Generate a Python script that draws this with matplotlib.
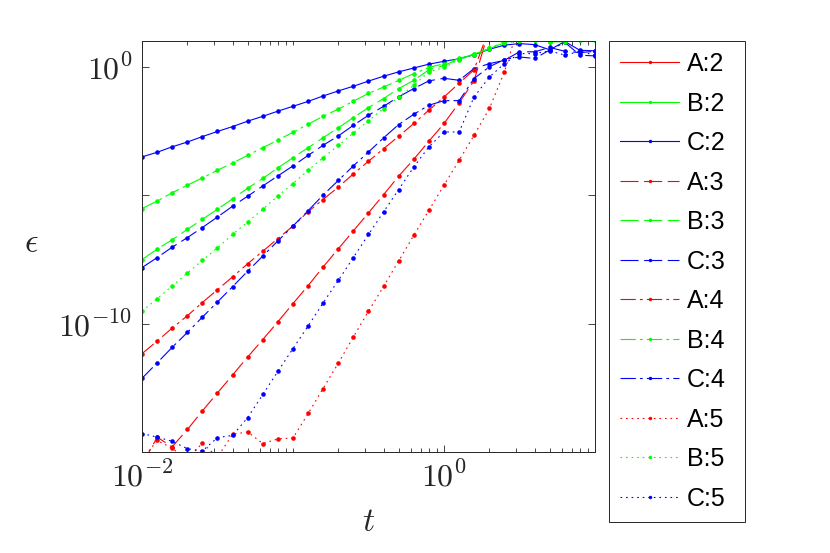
import numpy as np
import matplotlib
matplotlib.use('Agg')
import matplotlib.pyplot as plt
from matplotlib.ticker import LogLocator, NullLocator, NullFormatter

plt.rcParams['mathtext.fontset'] = 'cm'
plt.rcParams['lines.scale_dashes'] = False

# time steps
t = [0.01, 0.0126, 0.0158, 0.02, 0.0251, 0.0316, 0.0398, 0.0501, 0.0631, 0.0794,
     0.1, 0.126, 0.158, 0.2, 0.251, 0.316, 0.398, 0.501, 0.631, 0.794,
     1.0, 1.26, 1.58, 2.0, 2.51, 3.16, 3.98, 5.01, 6.31, 7.94, 10.0]

# log10 of the error (values above 1 leave through the top)
# A:2 and B:2 never show inside the axes
a2 = [np.nan] * 31
b2 = [np.nan] * 31
c2 = [-3.51, -3.33, -3.12, -2.93, -2.72, -2.52, -2.33, -2.12, -1.93, -1.73,
      -1.54, -1.35, -1.14, -0.94, -0.76, -0.56, -0.37, -0.20, -0.05, 0.10,
      0.21, 0.31, 0.47, 0.68, 0.84, 0.90, 0.86, 0.66, 0.98, 0.64, 0.62]
a3 = [-15.5, -14.42, -14.8, -14.12, -13.40, -12.70, -12.00, -11.30, -10.62, -9.93,
      -9.22, -8.52, -7.80, -7.08, -6.39, -5.69, -4.98, -4.26, -3.60, -2.90,
      -2.21, -1.40, -0.55, 1.5, 2.5, 3.0, 3.2, 3.4, 3.5, 3.6, 3.7]
b3 = [-7.51, -7.10, -6.74, -6.33, -5.94, -5.55, -5.14, -4.73, -4.35, -3.94,
      -3.54, -3.15, -2.77, -2.37, -1.98, -1.59, -1.24, -0.85, -0.53, -0.12,
      0.05, 0.30, 0.48, 0.70, 0.95, 1.05, 1.05, 0.97, 1.0, 1.05, 1.05]
c3 = [-7.82, -7.43, -7.03, -6.65, -6.26, -5.85, -5.43, -5.04, -4.64, -4.25,
      -3.86, -3.45, -3.06, -2.69, -2.28, -1.89, -1.54, -1.17, -0.85, -0.55,
      -0.45, -0.53, -0.07, 0.12, 0.25, 0.58, 0.58, 0.75, 0.60, 0.55, 0.60]
a4 = [-11.17, -10.68, -10.18, -9.69, -9.18, -8.68, -8.18, -7.67, -7.18, -6.69,
      -6.20, -5.64, -5.17, -4.68, -4.17, -3.68, -3.19, -2.71, -2.21, -1.69,
      -1.18, -0.64, -0.12, 1.5, 2.5, 3.0, 3.2, 3.4, 3.5, 3.6, 3.7]
b4 = [-5.52, -5.23, -4.91, -4.61, -4.33, -4.03, -3.75, -3.45, -3.15, -2.86,
      -2.55, -2.24, -1.93, -1.65, -1.34, -1.04, -0.79, -0.53, -0.27, -0.03,
      0.12, 0.32, 0.49, 0.71, 0.98, 1.05, 1.1, 0.97, 0.97, 1.1, 1.1]
c4 = [-12.13, -11.53, -10.93, -10.34, -9.75, -9.16, -8.56, -7.96, -7.37, -6.78,
      -6.20, -5.60, -5.00, -4.42, -3.86, -3.32, -2.77, -2.25, -1.85, -1.50,
      -1.32, -1.32, -0.46, 0.0, 0.28, 0.38, 0.32, 0.65, 0.95, 0.45, 0.42]
a5 = [-15.3, -14.55, -14.85, -15.3, -14.65, -15.2, -14.31, -14.22, -14.67, -14.49,
      -14.45, -13.50, -12.53, -11.53, -10.52, -9.52, -8.55, -7.56, -6.56, -5.59,
      -4.61, -3.64, -2.67, -1.62, -0.20, 1.7, 2.5, 3.0, 3.2, 3.4, 3.5]
b5 = [-9.52, -9.03, -8.54, -8.03, -7.54, -7.05, -6.53, -6.04, -5.55, -5.03,
      -4.55, -4.03, -3.54, -3.06, -2.58, -2.10, -1.63, -1.18, -0.72, -0.20,
      -0.03, 0.28, 0.45, 0.72, 0.92, 1.0, 1.05, 1.05, 0.97, 1.05, 1.05]
c5 = [-14.28, -14.42, -14.58, -14.87, -14.96, -14.44, -14.35, -13.66, -12.76, -11.86,
      -10.97, -10.09, -9.20, -8.31, -7.43, -6.53, -5.65, -4.78, -3.90, -3.12,
      -2.54, -2.54, -1.18, -0.40, 0.12, 0.51, 0.51, 0.62, 0.45, 0.60, 0.45]

series = [('A:2', a2), ('B:2', b2), ('C:2', c2),
          ('A:3', a3), ('B:3', b3), ('C:3', c3),
          ('A:4', a4), ('B:4', b4), ('C:4', c4),
          ('A:5', a5), ('B:5', b5), ('C:5', c5)]

colors = {'A': (1, 0, 0), 'B': (0, 1, 0), 'C': (0, 0, 1)}
styles = {'2': '-', '3': (0, (13, 4)), '4': (0, (11, 3, 2, 3)), '5': (0, (1.2, 2.8))}

fig = plt.figure(figsize=(8.3, 5.53), dpi=100)
ax = fig.add_axes([0.1711, 0.1826, 0.5458, 0.7432])

for name, vals in series:
    ax.plot(t, 10.0 ** np.array(vals), color=colors[name[0]], linestyle=styles[name[2]],
            linewidth=0.8, marker='o', markersize=3.3, markeredgewidth=0, label=name)

ax.set_xscale('log')
ax.set_yscale('log')
ax.set_xlim(1e-2, 1e1)
ax.set_ylim(1e-15, 1e1)

ax.set_xticks([1e-2, 1e0])
ax.set_xticklabels([r'$10^{-2}$', r'$10^{0}$'])
ax.xaxis.set_minor_locator(LogLocator(base=10, subs=np.arange(1, 10), numticks=30))
ax.xaxis.set_minor_formatter(NullFormatter())
ax.set_yticks([1e-15, 1e-10, 1e-5, 1e0])
ax.set_yticklabels(['', r'$10^{-10}$', '', r'$10^{0}$'])
ax.yaxis.set_minor_locator(NullLocator())

ax.tick_params(which='both', direction='in', top=True, right=True, colors='0.15',
               labelsize=23, width=0.6)
ax.tick_params(which='major', length=5, pad=7)
ax.tick_params(which='minor', length=3)
for s in ax.spines.values():
    s.set_color('0.15')
    s.set_linewidth(0.7)

ax.set_xlabel(r'$t$', fontsize=24, color='0.15')
ax.set_ylabel(r'$\epsilon$', fontsize=24, color='0.15', rotation=0)
ax.xaxis.set_label_coords(0.5, -0.13)
ax.yaxis.set_label_coords(-0.245, 0.47)

# legend box spans x 609..745, y 41..528 px in the reference
leg = ax.legend(loc='upper left', bbox_to_anchor=(0.7337, 0.0452, 0.1639, 0.8807),
                bbox_transform=fig.transFigure, mode='expand',
                borderaxespad=0, prop={'family': 'Liberation Sans', 'size': 18},
                labelspacing=0.62, handlelength=2.36, handletextpad=0.3, borderpad=0.45,
                fancybox=False, edgecolor='0.15', framealpha=1, markerscale=0.75)
leg.get_frame().set_linewidth(0.7)

fig.savefig('out.png', dpi=100, facecolor='white')
